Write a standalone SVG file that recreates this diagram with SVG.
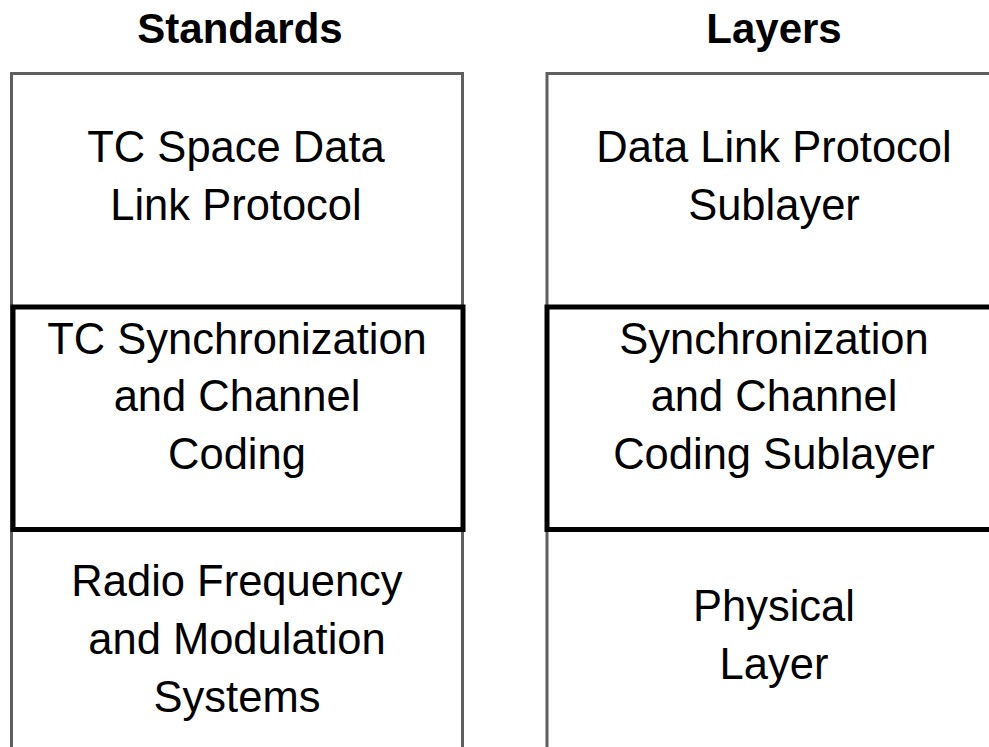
<svg xmlns="http://www.w3.org/2000/svg" width="989" height="747" viewBox="0 0 989 747">
<style>
.col{fill:none;stroke:#5f5f5f;stroke-width:3}
.box{fill:none;stroke:#000;stroke-width:5}
.h{font-family:"Liberation Sans",Arial,sans-serif;font-weight:bold;font-size:42px;text-anchor:middle;fill:#000}
.t{font-family:"Liberation Sans",Arial,sans-serif;font-size:43.5px;text-anchor:middle;fill:#000}
</style>
<rect width="989" height="747" fill="#fff"/>
<g id="standards-column">
<path class="col" d="M11.5,750 V73.5 H462.5 V750"/>
<text class="h" x="240" y="43">Standards</text>
</g>
<g id="layers-column">
<path class="col" d="M547,750 V73.5 H995"/>
<text class="h" x="774" y="43">Layers</text>
</g>
<g id="tc-space-data-link">
<text class="t" x="236" y="162">TC Space Data</text>
<text class="t" x="236" y="220">Link Protocol</text>
</g>
<g id="tc-sync-coding">
<rect class="box" x="13" y="307" width="450" height="222.5"/>
<text class="t" x="237" y="354">TC Synchronization</text>
<text class="t" x="237" y="411">and Channel</text>
<text class="t" x="237" y="469">Coding</text>
</g>
<g id="rf-modulation">
<text class="t" x="237" y="596">Radio Frequency</text>
<text class="t" x="237" y="654">and Modulation</text>
<text class="t" x="237" y="712">Systems</text>
</g>
<g id="data-link-sublayer">
<text class="t" x="774" y="162">Data Link Protocol</text>
<text class="t" x="774" y="220">Sublayer</text>
</g>
<g id="sync-coding-sublayer">
<path class="box" d="M995,307 H547 V529.5 H995"/>
<text class="t" x="774" y="354">Synchronization</text>
<text class="t" x="774" y="411">and Channel</text>
<text class="t" x="774" y="469">Coding Sublayer</text>
</g>
<g id="physical-layer">
<text class="t" x="774" y="621">Physical</text>
<text class="t" x="774" y="679">Layer</text>
</g>
</svg>
